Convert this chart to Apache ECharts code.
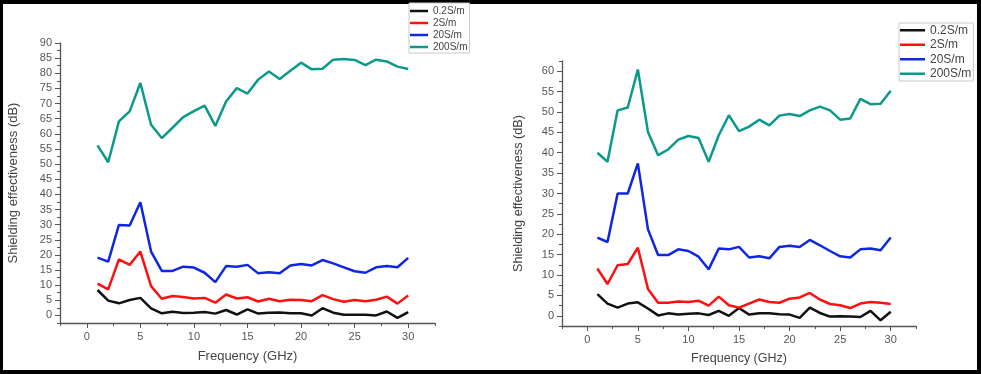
<!DOCTYPE html>
<html>
<head>
<meta charset="utf-8">
<script src="https://cdn.jsdelivr.net/npm/echarts@6/dist/echarts.min.js"></script>
<style>
html,body{margin:0;padding:0;background:#000;}
#paper{position:absolute;left:3px;top:4px;width:974px;height:366px;background:#fff;}
#chart{position:absolute;left:0;top:0;width:981px;height:374px;}
</style>
</head>
<body>
<div id="paper"></div>
<div id="chart"></div>
<script>
// ---------- data ----------
const freq = [1,2,3,4,5,6,7,8,9,10,11,12,13,14,15,16,17,18,19,20,21,22,23,24,25,26,27,28,29,30];
const seriesNames = ['0.2S/m','2S/m','20S/m','200S/m'];
const seriesColors = ['#111111','#ff1010','#1026e0','#0b9a8a'];

// left panel
const left_02  = [8.4,4.9,4.0,5.1,5.8,2.3,0.7,1.2,0.8,0.9,1.1,0.6,1.8,0.3,2.0,0.6,0.9,1.0,0.7,0.7,0.0,2.4,0.9,0.2,0.2,0.2,0.0,1.3,-0.8,1.1];
const left_2   = [10.5,8.6,18.5,16.7,21.1,9.7,5.5,6.4,6.1,5.6,5.8,4.2,6.9,5.6,6.0,4.6,5.5,4.7,5.2,5.1,4.7,6.7,5.4,4.5,5.1,4.7,5.2,6.2,3.9,6.6];
const left_20  = [19.1,17.8,29.9,29.7,37.4,21.1,14.7,14.7,16.1,15.8,14.1,11.0,16.3,16.1,16.7,13.9,14.3,13.9,16.5,17.0,16.5,18.3,17.2,15.9,14.6,14.1,15.9,16.3,15.9,19.0];
const left_200 = [56.2,50.6,64.1,67.4,76.8,63.0,58.6,62.0,65.5,67.5,69.3,62.6,70.7,75.1,73.3,77.9,80.6,78.1,80.8,83.5,81.3,81.5,84.5,84.7,84.4,82.7,84.5,83.9,82.2,81.4];

// right panel
const right_02  = [5.3,3.0,2.0,3.0,3.3,1.8,0.1,0.6,0.3,0.5,0.6,0.2,1.2,0.0,1.9,0.3,0.6,0.6,0.4,0.3,-0.5,2.0,0.7,-0.2,-0.1,-0.2,-0.3,1.2,-1.1,1.0];
const right_2   = [11.6,7.8,12.4,12.7,16.7,6.6,3.2,3.2,3.5,3.4,3.7,2.5,4.7,2.6,2.0,3.0,4.0,3.4,3.2,4.2,4.5,5.6,4.0,2.9,2.6,1.9,3.0,3.4,3.2,2.9];
const right_20  = [19.2,18.1,30.0,30.0,37.4,21.2,14.9,14.9,16.3,15.9,14.5,11.4,16.5,16.3,16.9,14.3,14.6,14.1,16.9,17.2,16.9,18.6,17.3,15.9,14.6,14.3,16.3,16.5,16.1,19.2];
const right_200 = [40.0,37.8,50.4,51.1,60.4,45.1,39.4,40.8,43.2,44.1,43.6,37.8,44.3,49.2,45.3,46.4,48.1,46.7,49.1,49.5,49.0,50.4,51.3,50.4,48.1,48.4,53.2,51.9,52.0,55.2];

// tick labels
const xTickLabels = [0,5,10,15,20,25,30];
const yTickLabelsLeft = [0,5,10,15,20,25,30,35,40,45,50,55,60,65,70,75,80,85,90];
const yTickLabelsRight = [0,5,10,15,20,25,30,35,40,45,50,55,60];

// ---------- build ----------
const FONT = '"Liberation Sans", Arial, sans-serif';
const axisColor = '#555';
const labelColor = '#555';

function pairs(ys){ return freq.map((f,i)=>[f, ys[i]]); }

function mainX(grid, nameGap, nameSize){
  return {
    type:'value', gridIndex:grid, position:'bottom', min:-2.5, max:32.5, interval:2.5,
    name:'Frequency (GHz)', nameLocation:'middle', nameGap:nameGap,
    nameTextStyle:{fontFamily:FONT, fontSize:nameSize, color:'#444'},
    axisLine:{show:true, onZero:false, lineStyle:{color:axisColor, width:1.3}},
    axisTick:{show:true, inside:false, length:3, lineStyle:{color:axisColor, width:1}},
    axisLabel:{show:true, customValues:xTickLabels, margin:8, fontFamily:FONT, fontSize:11, color:labelColor},
    splitLine:{show:false}
  };
}
function majorX(grid){
  return {
    type:'value', gridIndex:grid, position:'bottom', offset:0, min:-2.5, max:32.5, interval:2.5,
    axisLine:{show:false, onZero:false},
    axisTick:{show:true, customValues:xTickLabels, length:5, lineStyle:{color:axisColor, width:1}},
    axisLabel:{show:false}, splitLine:{show:false}
  };
}
function mainY(grid, max, labels, nameGap, nameSize){
  return {
    type:'value', gridIndex:grid, position:'left', min:-2.5, max:max, interval:2.5,
    name:'Shielding effectiveness (dB)', nameLocation:'middle', nameGap:nameGap,
    nameTextStyle:{fontFamily:FONT, fontSize:nameSize, color:'#444'},
    axisLine:{show:true, onZero:false, lineStyle:{color:axisColor, width:1.3}},
    axisTick:{show:true, inside:false, length:3, lineStyle:{color:axisColor, width:1}},
    axisLabel:{show:true, customValues:labels, margin:8, fontFamily:FONT, fontSize:11, color:labelColor},
    splitLine:{show:false}
  };
}
function majorY(grid, max, labels){
  return {
    type:'value', gridIndex:grid, position:'left', offset:0, min:-2.5, max:max, interval:2.5,
    axisLine:{show:false, onZero:false},
    axisTick:{show:true, customValues:labels, length:5, lineStyle:{color:axisColor, width:1}},
    axisLabel:{show:false}, splitLine:{show:false}
  };
}

const leftData = [left_02, left_2, left_20, left_200];
const rightData = [right_02, right_2, right_20, right_200];
const series = [];
leftData.forEach((d,i)=>series.push({
  name:seriesNames[i], type:'line', xAxisIndex:0, yAxisIndex:0, data:pairs(d),
  showSymbol:false, symbol:'none', lineStyle:{color:seriesColors[i], width:2.5}, itemStyle:{color:seriesColors[i]},
  silent:true, animation:false
}));
rightData.forEach((d,i)=>series.push({
  name:seriesNames[i], type:'line', xAxisIndex:1, yAxisIndex:1, data:pairs(d),
  showSymbol:false, symbol:'none', lineStyle:{color:seriesColors[i], width:2.5}, itemStyle:{color:seriesColors[i]},
  silent:true, animation:false
}));

const option = {
  backgroundColor:'transparent',
  animation:false,
  grid:[
    {left:60, top:43, width:375, height:280},
    {left:562, top:61, width:354, height:265}
  ],
  xAxis:[ mainX(0, 27, 13), mainX(1, 26, 12.5), majorX(0), majorX(1) ],
  yAxis:[ mainY(0, 90, yTickLabelsLeft, 40, 13), mainY(1, 62.5, yTickLabelsRight, 37, 12.7),
          majorY(0, 90, yTickLabelsLeft), majorY(1, 62.5, yTickLabelsRight) ],
  legend:[
    {
      data:seriesNames, orient:'vertical', left:409, top:3,
      icon:'rect', itemWidth:18, itemHeight:2.5, itemGap:2,
      padding:[3,2,1,1], borderColor:'#c8c8c8', borderWidth:1, backgroundColor:'#fff',
      textStyle:{fontFamily:FONT, fontSize:10, lineHeight:10, color:'#444'},
      selectedMode:false
    },
    {
      data:seriesNames, orient:'vertical', left:899, top:23,
      icon:'rect', itemWidth:25, itemHeight:2.5, itemGap:2,
      padding:[1,2,1,1], borderColor:'#c8c8c8', borderWidth:1, backgroundColor:'#fff',
      textStyle:{fontFamily:FONT, fontSize:12, lineHeight:12.5, color:'#444'},
      selectedMode:false
    }
  ],
  series:series
};

const chart = echarts.init(document.getElementById('chart'), null, {renderer:'canvas'});
chart.setOption(option);
</script>
</body>
</html>
